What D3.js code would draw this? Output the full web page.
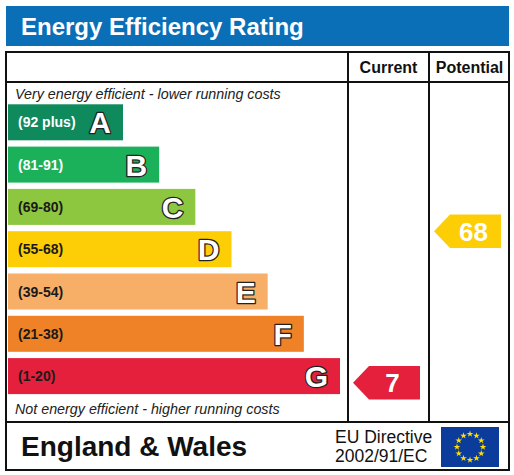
<!DOCTYPE html>
<html>
<head>
<meta charset="utf-8">
<script src="https://cdn.jsdelivr.net/npm/d3@7"></script>
<style>
  html, body { margin: 0; padding: 0; background: #fff; }
  svg { display: block; font-family: "Liberation Sans", Arial, Helvetica, sans-serif; }
</style>
</head>
<body>
<svg id="chart" width="514" height="475"></svg>
<script>
// ---- data ----
const bands = ["A", "B", "C", "D", "E", "F", "G"];
const rangeLabels = ["(92 plus)", "(81-91)", "(69-80)", "(55-68)", "(39-54)", "(21-38)", "(1-20)"];
const bandMin = [92, 81, 69, 55, 39, 21, 1];
const bandMax = [100, 91, 80, 68, 54, 38, 20];
const bandColors = ["#0e8a5c", "#1bb15a", "#8dc63f", "#fdcd06", "#f7ae66", "#ef8226", "#e4203d"];
const labelColors = ["#ffffff", "#ffffff", "#1a1a1a", "#1a1a1a", "#1a1a1a", "#1a1a1a", "#1a1a1a"];
const columns = ["Current", "Potential"];
const ratingValues = [7, 68];   // current, potential
const titleText = "Energy Efficiency Rating";
const topNote = "Very energy efficient - lower running costs";
const bottomNote = "Not energy efficient - higher running costs";
const footerText = "England & Wales";
const directiveLines = ["EU Directive", "2002/91/EC"];

// ---- layout ----
const svg = d3.select("#chart");
const L = 6, R = 509, T = 52, B = 470;
const headerBottom = 82, mainBottom = 422;
const col1 = 348, col2 = 429;

// title bar
svg.append("rect").attr("x", L).attr("y", 6).attr("width", R - L).attr("height", 40).attr("fill", "#0a6fb7");
svg.append("text").attr("x", 21).attr("y", 35).attr("fill", "#fff")
  .attr("font-size", 24).attr("font-weight", "bold").text(titleText);

// scales
const y = d3.scaleBand().domain(bands).range([104.3, 394.1]).paddingInner(0.149).paddingOuter(0);
const xEnd = d3.scaleLinear().domain([0, bands.length - 1]).range([123, 340]);
const colX = d3.scaleBand().domain(columns).range([col1, col2 + (col2 - col1)]).padding(0);

// bars
const g = svg.append("g");
const bar = g.selectAll("g.band").data(bands).join("g").attr("class", "band");
bar.append("rect")
  .attr("x", 8)
  .attr("y", d => y(d))
  .attr("width", (d, i) => xEnd(i) - 8)
  .attr("height", y.bandwidth())
  .attr("fill", (d, i) => bandColors[i]);
bar.append("text")
  .attr("x", 18)
  .attr("y", d => y(d) + y.bandwidth() / 2 + 5)
  .attr("font-size", 14).attr("font-weight", "bold")
  .attr("fill", (d, i) => labelColors[i])
  .text((d, i) => rangeLabels[i]);
bar.append("text")
  .attr("x", (d, i) => xEnd(i) - 12)
  .attr("y", d => y(d) + y.bandwidth() / 2 + 11)
  .attr("text-anchor", "end")
  .attr("font-size", 30).attr("font-weight", "bold")
  .attr("fill", "#fff").attr("stroke", "#222").attr("stroke-width", 2.6)
  .attr("paint-order", "stroke").attr("stroke-linejoin", "round")
  .text(d => d);

// notes
svg.append("text").attr("x", 15).attr("y", 98.5).attr("font-size", 14.3).attr("font-style", "italic")
  .attr("fill", "#222").text(topNote);
svg.append("text").attr("x", 15).attr("y", 413.5).attr("font-size", 14.3).attr("font-style", "italic")
  .attr("fill", "#222").text(bottomNote);

// rating arrows
function bandOf(v) { return bandMin.findIndex((m, i) => v >= m && v <= bandMax[i]); }
function yOfValue(v) {
  const i = bandOf(v);
  const s = d3.scaleLinear().domain([bandMax[i], bandMin[i]]).range([y(bands[i]), y(bands[i]) + y.bandwidth()]);
  return s(v);
}
const arrowH = 33.4;
ratingValues.forEach((v, ci) => {
  const i = bandOf(v);
  const cx0 = colX(columns[ci]);
  const cw = colX.bandwidth();
  const cy = yOfValue(v);
  const tip = cx0 + 5, bodyL = tip + 16, right = cx0 + cw - 9;
  const pts = [[tip, cy], [bodyL, cy - arrowH / 2], [right, cy - arrowH / 2], [right, cy + arrowH / 2], [bodyL, cy + arrowH / 2]];
  svg.append("path").attr("d", d3.line()(pts) + "Z").attr("fill", bandColors[i]);
  svg.append("text").attr("x", (bodyL + right) / 2 - 2).attr("y", cy + 9.5)
    .attr("text-anchor", "middle").attr("font-size", 26).attr("font-weight", "bold")
    .attr("fill", "#fff").text(v);
});

// headers
columns.forEach(c => {
  svg.append("text").attr("x", colX(c) + colX.bandwidth() / 2).attr("y", 72.5)
    .attr("text-anchor", "middle").attr("font-size", 16).attr("font-weight", "bold")
    .attr("fill", "#111").text(c);
});

// grid lines
const lines = svg.append("g").attr("stroke", "#111").attr("stroke-width", 2).attr("fill", "none");
lines.append("rect").attr("x", L).attr("y", T).attr("width", R - L).attr("height", B - T);
lines.append("line").attr("x1", L).attr("x2", R).attr("y1", headerBottom).attr("y2", headerBottom);
lines.append("line").attr("x1", L).attr("x2", R).attr("y1", mainBottom).attr("y2", mainBottom);
[col1, col2].forEach(x => lines.append("line").attr("x1", x).attr("x2", x).attr("y1", T).attr("y2", mainBottom));

// footer
svg.append("text").attr("x", 21).attr("y", 456).attr("font-size", 28).attr("font-weight", "bold")
  .attr("fill", "#111").text(footerText);
directiveLines.forEach((t, k) => {
  svg.append("text").attr("x", 335).attr("y", 442.5 + k * 19.3).attr("font-size", 17.5)
    .attr("fill", "#111").text(t);
});

// EU flag
const fx = 441, fy = 427, fw = 58, fh = 40;
svg.append("rect").attr("x", fx).attr("y", fy).attr("width", fw).attr("height", fh).attr("fill", "#0b3c9c");
const star = d3.symbol().type(d3.symbolStar).size(14);
svg.append("g").selectAll("path").data(d3.range(12)).join("path")
  .attr("d", star)
  .attr("fill", "#ffde00")
  .attr("transform", d => {
    const a = d / 12 * 2 * Math.PI;
    return `translate(${fx + fw / 2 + 13 * Math.sin(a)},${fy + fh / 2 - 13 * Math.cos(a)})`;
  });
</script>
</body>
</html>
